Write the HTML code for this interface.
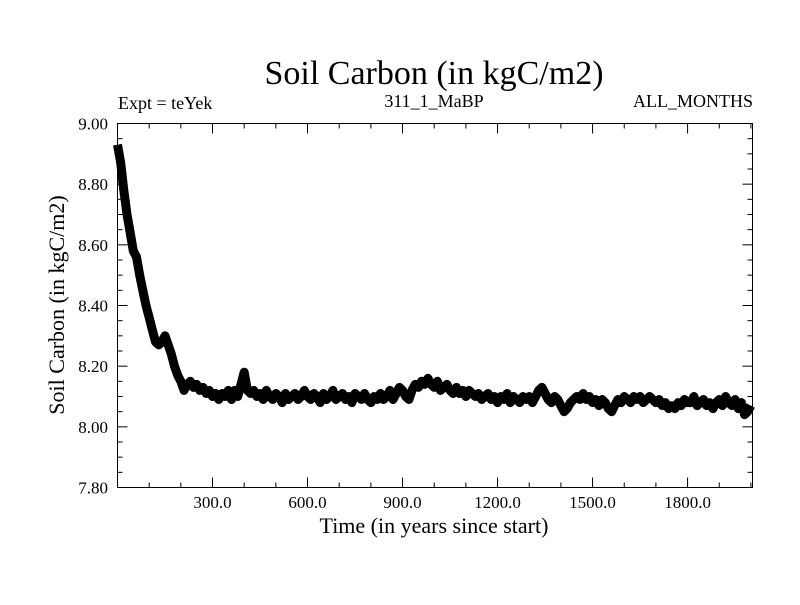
<!DOCTYPE html>
<html><head><meta charset="utf-8"><style>
body{margin:0;background:#fff;width:800px;height:600px;overflow:hidden}
svg text{font-family:"Liberation Serif",serif;fill:#000}
</style></head><body>
<svg id="chart" width="800" height="600" viewBox="0 0 800 600">
<text x="434" y="84" font-size="34" text-anchor="middle">Soil Carbon (in kgC/m2)</text>
<text x="118" y="109" font-size="18">Expt = teYek</text>
<text x="434" y="107" font-size="18" text-anchor="middle">311_1_MaBP</text>
<text x="753" y="107" font-size="18" text-anchor="end">ALL_MONTHS</text>
<text x="434" y="533" font-size="22" text-anchor="middle">Time (in years since start)</text>
<text x="64" y="305" font-size="22" text-anchor="middle" transform="rotate(-90 64 305)">Soil Carbon (in kgC/m2)</text>
<g id="axes"></g>
<path id="series" fill="none" stroke="#000" stroke-width="9" stroke-linejoin="round"/>
<rect x="117.5" y="123.5" width="635" height="364" fill="none" stroke="#000" stroke-width="1"/>
</svg>
<script>
const years = [0,10,20,30,40,50,60,70,80,90,100,110,120,130,140,150,160,170,180,190,200,210,220,230,240,250,260,270,280,290,300,310,320,330,340,350,360,370,380,390,400,410,420,430,440,450,460,470,480,490,500,510,520,530,540,550,560,570,580,590,600,610,620,630,640,650,660,670,680,690,700,710,720,730,740,750,760,770,780,790,800,810,820,830,840,850,860,870,880,890,900,910,920,930,940,950,960,970,980,990,1000,1010,1020,1030,1040,1050,1060,1070,1080,1090,1100,1110,1120,1130,1140,1150,1160,1170,1180,1190,1200,1210,1220,1230,1240,1250,1260,1270,1280,1290,1300,1310,1320,1330,1340,1350,1360,1370,1380,1390,1400,1410,1420,1430,1440,1450,1460,1470,1480,1490,1500,1510,1520,1530,1540,1550,1560,1570,1580,1590,1600,1610,1620,1630,1640,1650,1660,1670,1680,1690,1700,1710,1720,1730,1740,1750,1760,1770,1780,1790,1800,1810,1820,1830,1840,1850,1860,1870,1880,1890,1900,1910,1920,1930,1940,1950,1960,1970,1980,1990,2000];
const carbon = [8.93,8.87,8.78,8.70,8.64,8.58,8.56,8.50,8.45,8.40,
8.36,8.32,8.28,8.27,8.28,8.30,8.27,8.24,8.20,8.17,
8.15,8.12,8.14,8.15,8.13,8.14,8.12,8.13,8.11,8.12,
8.10,8.11,8.09,8.11,8.10,8.12,8.09,8.12,8.10,8.14,
8.18,8.12,8.11,8.12,8.10,8.11,8.09,8.12,8.10,8.09,
8.11,8.10,8.08,8.11,8.09,8.10,8.11,8.09,8.10,8.12,
8.10,8.09,8.11,8.10,8.08,8.11,8.09,8.10,8.12,8.09,
8.10,8.11,8.09,8.10,8.08,8.11,8.10,8.09,8.11,8.09,
8.08,8.10,8.09,8.11,8.09,8.10,8.12,8.09,8.11,8.13,
8.12,8.10,8.09,8.12,8.14,8.13,8.15,8.14,8.16,8.14,
8.13,8.15,8.12,8.13,8.14,8.12,8.11,8.13,8.11,8.12,
8.10,8.12,8.11,8.10,8.11,8.09,8.10,8.11,8.09,8.10,
8.08,8.10,8.09,8.11,8.08,8.10,8.09,8.08,8.10,8.09,
8.10,8.08,8.10,8.12,8.13,8.11,8.09,8.08,8.10,8.09,
8.07,8.05,8.06,8.08,8.09,8.10,8.09,8.11,8.09,8.10,
8.08,8.09,8.07,8.09,8.08,8.06,8.05,8.07,8.09,8.08,
8.10,8.09,8.08,8.10,8.09,8.10,8.08,8.09,8.10,8.09,
8.08,8.09,8.07,8.08,8.06,8.07,8.06,8.08,8.07,8.09,
8.08,8.08,8.10,8.07,8.08,8.09,8.07,8.08,8.06,8.08,
8.09,8.07,8.10,8.08,8.07,8.09,8.06,8.08,8.04,8.05,
8.07];
const xTicks = [300,600,900,1200,1500,1800];
const yTicks = [7.8,8.0,8.2,8.4,8.6,8.8,9.0];
const X0=0,X1=2005,Y0=7.8,Y1=9.0,L=117.5,R=752.5,T=123.5,B=487.5;
const sx=v=>L+(v-X0)/(X1-X0)*(R-L);
const sy=v=>B-(v-Y0)/(Y1-Y0)*(B-T);
const ns="http://www.w3.org/2000/svg";
const axes=document.getElementById('axes');
function line(x1,y1,x2,y2,name){const l=document.createElementNS(ns,'line');
l.setAttribute('x1',x1);l.setAttribute('y1',y1);l.setAttribute('x2',x2);l.setAttribute('y2',y2);l.setAttribute('stroke','#000');


axes.appendChild(l);}
function text(x,y,s,anchor,name){const t=document.createElementNS(ns,'text');
t.setAttribute('x',x);t.setAttribute('y',y);t.setAttribute('font-size','17');t.setAttribute('text-anchor',anchor);t.textContent=s;


axes.appendChild(t);}
for(let v=100;v<X1;v+=100){const major=v%300===0;const len=major?10:5;
line(sx(v),B,sx(v),B-len,'x-tick');line(sx(v),T,sx(v),T+len,'x-tick-top');}
xTicks.forEach(v=>text(sx(v),508,v.toFixed(1),'middle','x-tick-label'));
for(let i=0;i<=24;i++){const v=Y0+i*0.05;const major=i%4===0;const len=major?10:5;
line(L,sy(v),L+len,sy(v),'y-tick');line(R,sy(v),R-len,sy(v),'y-tick-right');}
yTicks.forEach(v=>text(108,sy(v)+6,v.toFixed(2),'end','y-tick-label'));
const n=Math.min(years.length,carbon.length);
let d='';for(let i=0;i<n;i++){d+=(i?'L':'M')+sx(years[i]).toFixed(1)+','+sy(carbon[i]).toFixed(1);}
document.getElementById('series').setAttribute('d',d);
</script>
</body></html>
